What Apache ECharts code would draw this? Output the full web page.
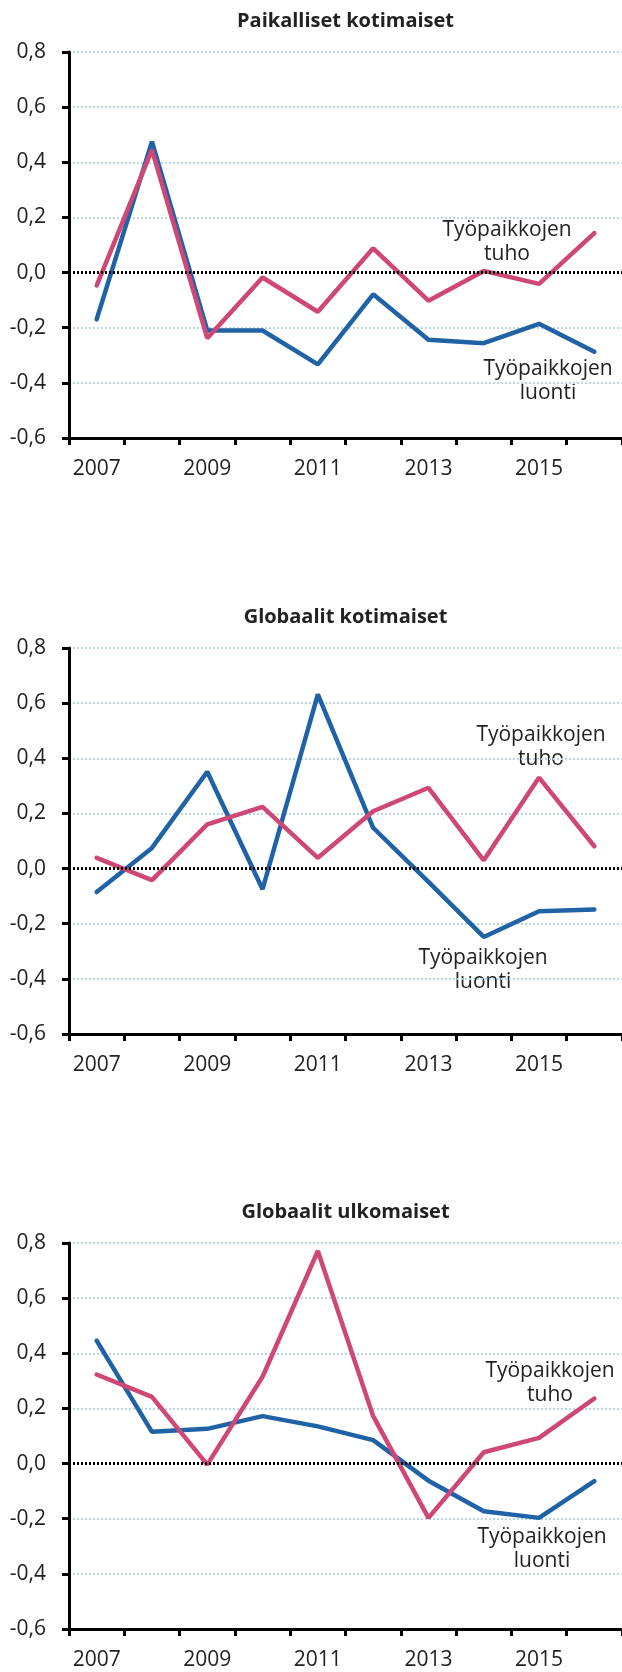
<!DOCTYPE html>
<html>
<head>
<meta charset="utf-8">
<script src="https://cdn.jsdelivr.net/npm/echarts@6/dist/echarts.min.js"></script>
<style>
  html, body { margin: 0; padding: 0; background: #fff; }
  #chart { width: 622px; height: 1672px; }
</style>
</head>
<body>
<div id="chart"></div>
<script>
// years on the x axis
const years = ['2007', '2008', '2009', '2010', '2011', '2012', '2013', '2014', '2015', '2016'];

// Paikalliset kotimaiset
const luonti1 = [-0.17, 0.475, -0.21, -0.21, -0.333, -0.079, -0.244, -0.256, -0.186, -0.287];
const tuho1 = [-0.047, 0.445, -0.238, -0.018, -0.142, 0.088, -0.102, 0.006, -0.041, 0.143];

// Globaalit kotimaiset
const luonti2 = [-0.085, 0.075, 0.351, -0.075, 0.632, 0.148, -0.048, -0.248, -0.155, -0.148];
const tuho2 = [0.039, -0.042, 0.160, 0.224, 0.039, 0.208, 0.293, 0.030, 0.330, 0.081];

// Globaalit ulkomaiset
const luonti3 = [0.446, 0.115, 0.126, 0.172, 0.135, 0.085, -0.062, -0.173, -0.197, -0.064];
const tuho3 = [0.323, 0.242, -0.004, 0.315, 0.771, 0.172, -0.197, 0.041, 0.093, 0.236];

const titles = ['Paikalliset kotimaiset', 'Globaalit kotimaiset', 'Globaalit ulkomaiset'];
const yMin = -0.6, yMax = 0.8, yStep = 0.2;

const BLUE = '#1f63a6';
const PINK = '#cf4775';
const FONT = '"Open Sans", "Noto Sans", sans-serif';

const panels = [
  {title: titles[0], luonti: luonti1, tuho: tuho1, top: 52, tuhoPos: [507, 242], luontiPos: [548, 381]},
  {title: titles[1], luonti: luonti2, tuho: tuho2, top: 648, tuhoPos: [541, 747], luontiPos: [483, 970]},
  {title: titles[2], luonti: luonti3, tuho: tuho3, top: 1243, tuhoPos: [550, 1383], luontiPos: [542, 1549]}
];
const plotH = 386;
const plotLeft = 69;

const chart = echarts.init(document.getElementById('chart'));

const grid = [], xAxis = [], yAxis = [], series = [], graphic = [];

panels.forEach((p, i) => {
  grid.push({left: plotLeft, right: 0, top: p.top, height: plotH});
  xAxis.push({
    type: 'category',
    gridIndex: i,
    data: years,
    boundaryGap: true,
    axisLine: {onZero: false, lineStyle: {color: '#000', width: 3}},
    axisTick: {show: true, interval: 0, length: 7, lineStyle: {color: '#000', width: 3}},
    axisLabel: {interval: 1, margin: 21, color: '#222', fontSize: 21, fontFamily: FONT},
    splitLine: {show: false}
  });
  yAxis.push({
    type: 'value',
    gridIndex: i,
    min: yMin,
    max: yMax,
    interval: yStep,
    axisLine: {show: true, lineStyle: {color: '#000', width: 3}},
    axisTick: {show: true, length: 7, lineStyle: {color: '#000', width: 3}},
    axisLabel: {
      margin: 23, color: '#222', fontSize: 21, fontFamily: FONT,
      formatter: v => v.toFixed(1).replace('.', ',')
    },
    splitLine: {show: true, lineStyle: {color: '#b8d6e6', width: 2, type: [2, 2]}}
  });
  series.push({
    name: 'Työpaikkojen luonti',
    type: 'line',
    xAxisIndex: i,
    yAxisIndex: i,
    data: p.luonti,
    symbol: 'none',
    lineStyle: {color: BLUE, width: 4.5, cap: 'round'},
    markLine: {
      silent: true,
      symbol: 'none',
      label: {show: false},
      lineStyle: {color: '#000', width: 3, type: [2, 2]},
      data: [{yAxis: 0}]
    },
    z: 2
  });
  series.push({
    name: 'Työpaikkojen tuho',
    type: 'line',
    xAxisIndex: i,
    yAxisIndex: i,
    data: p.tuho,
    symbol: 'none',
    lineStyle: {color: PINK, width: 4.5, cap: 'round'},
    z: 3
  });

  graphic.push({
    type: 'text',
    x: plotLeft + (622 - plotLeft) / 2,
    y: p.top - 31,
    style: {
      text: p.title, fill: '#222', font: 'bold 20px ' + FONT,
      align: 'center', verticalAlign: 'middle'
    }
  });
  graphic.push({
    type: 'text',
    x: p.tuhoPos[0],
    y: p.tuhoPos[1],
    style: {
      text: 'Työpaikkojen\ntuho', fill: '#222', font: '21px ' + FONT,
      lineHeight: 24, align: 'center', verticalAlign: 'middle'
    }
  });
  graphic.push({
    type: 'text',
    x: p.luontiPos[0],
    y: p.luontiPos[1],
    style: {
      text: 'Työpaikkojen\nluonti', fill: '#222', font: '21px ' + FONT,
      lineHeight: 24, align: 'center', verticalAlign: 'middle'
    }
  });
});

chart.setOption({
  animation: false,
  grid: grid,
  xAxis: xAxis,
  yAxis: yAxis,
  series: series,
  graphic: graphic
});
</script>
</body>
</html>
